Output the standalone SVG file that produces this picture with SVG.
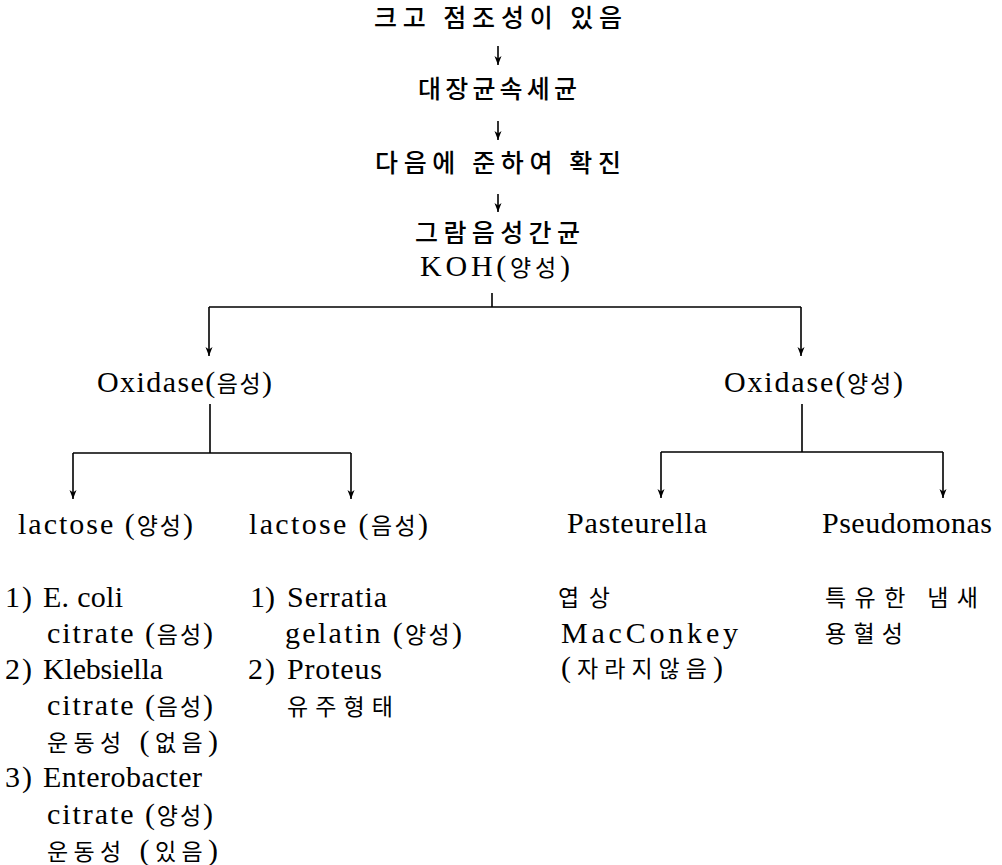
<svg xmlns="http://www.w3.org/2000/svg" width="1002" height="865" viewBox="0 0 1002 865">
  <style>
    .hd { font-family: "Noto Sans CJK KR", sans-serif; font-size: 25px; font-weight: 500; fill: #000; }
    .t { font-family: "Liberation Serif", "Noto Sans CJK KR", serif; font-size: 30px; fill: #000; }
    .k { font-family: "Noto Sans CJK KR", sans-serif; font-size: 23px; }
    .ln { stroke: #000; stroke-width: 1.6; fill: none; }
    .ar { stroke: #000; stroke-width: 1.6; fill: none; marker-end: url(#head); }
  </style>
  <defs>
    <!-- small filled arrowhead, drawn along +x so orient="auto" follows the line -->
    <marker id="head" markerUnits="userSpaceOnUse" markerWidth="10" markerHeight="10" viewBox="0 0 10 10" refX="9" refY="5" orient="auto">
      <path d="M0,1.5 L9,5 L0,8.5 L2.5,5 Z" fill="#000"/>
    </marker>
  </defs>
  <rect width="1002" height="865" fill="#fff"/>

  <!-- top chain -->
  <g id="n-title"><text class="hd" x="374" y="27" textLength="248">크고 점조성이 있음</text></g>
  <g id="n-genus"><text class="hd" x="418" y="98" textLength="159">대장균속세균</text></g>
  <g id="n-confirm"><text class="hd" x="375" y="172" textLength="246">다음에 준하여 확진</text></g>
  <g id="n-gram">
    <text class="hd" x="415" y="242" textLength="165">그람음성간균</text>
    <text class="t" x="420" y="276" textLength="150">KOH(<tspan class="k">양성</tspan>)</text>
  </g>

  <!-- oxidase level -->
  <g id="n-oxneg"><text class="t" x="97" y="392" textLength="175">Oxidase(<tspan class="k">음성</tspan>)</text></g>
  <g id="n-oxpos"><text class="t" x="724" y="392" textLength="179">Oxidase(<tspan class="k">양성</tspan>)</text></g>

  <!-- lactose / genus level -->
  <g id="n-lacpos"><text class="t" x="18" y="534" textLength="175">lactose (<tspan class="k">양성</tspan>)</text></g>
  <g id="n-lacneg"><text class="t" x="249" y="534" textLength="179">lactose (<tspan class="k">음성</tspan>)</text></g>
  <g id="n-past"><text class="t" x="567" y="533" textLength="140">Pasteurella</text></g>
  <g id="n-pseudo"><text class="t" x="822" y="533" textLength="170">Pseudomonas</text></g>

  <!-- lactose positive list -->
  <g id="n-list-lacpos">
    <text class="t" x="5" y="607" textLength="27">1)</text>
    <text class="t" x="43" y="607" textLength="80">E. coli</text>
    <text class="t" x="47" y="643" textLength="166">citrate (<tspan class="k">음성</tspan>)</text>
    <text class="t" x="5" y="679" textLength="27">2)</text>
    <text class="t" x="43" y="679" textLength="120">Klebsiella</text>
    <text class="t" x="47" y="715" textLength="166">citrate (<tspan class="k">음성</tspan>)</text>
    <text class="t" x="47" y="751" textLength="171"><tspan class="k">운동성</tspan> (<tspan class="k">없음</tspan>)</text>
    <text class="t" x="5" y="787" textLength="27">3)</text>
    <text class="t" x="43" y="787" textLength="159">Enterobacter</text>
    <text class="t" x="47" y="824" textLength="166">citrate (<tspan class="k">양성</tspan>)</text>
    <text class="t" x="47" y="860" textLength="171"><tspan class="k">운동성</tspan> (<tspan class="k">있음</tspan>)</text>
  </g>

  <!-- lactose negative list -->
  <g id="n-list-lacneg">
    <text class="t" x="250" y="607" textLength="25">1)</text>
    <text class="t" x="287" y="607" textLength="100">Serratia</text>
    <text class="t" x="285" y="643" textLength="177">gelatin (<tspan class="k">양성</tspan>)</text>
    <text class="t" x="248" y="679" textLength="27">2)</text>
    <text class="t" x="287" y="679" textLength="95">Proteus</text>
    <text class="t" x="287" y="715" textLength="106"><tspan class="k">유주형태</tspan></text>
  </g>

  <!-- Pasteurella notes -->
  <g id="n-list-past">
    <text class="t" x="558" y="606" textLength="52"><tspan class="k">엽상</tspan></text>
    <text class="t" x="561" y="643" textLength="177">MacConkey</text>
    <text class="t" x="561" y="677" textLength="162">(<tspan class="k">자라지않음</tspan>)</text>
  </g>

  <!-- Pseudomonas notes -->
  <g id="n-list-pseudo">
    <text class="t" x="825" y="606" textLength="153"><tspan class="k">특유한 냄새</tspan></text>
    <text class="t" x="825" y="642" textLength="78"><tspan class="k">용혈성</tspan></text>
  </g>

  <!-- connectors -->
  <g id="connectors">
    <path class="ar" d="M498,46 V65"/>
    <path class="ar" d="M498,121 V140"/>
    <path class="ar" d="M498,194 V212"/>
    <path class="ln" d="M492,293 V307 M209,307 H801"/>
    <path class="ar" d="M209,307 V356"/>
    <path class="ar" d="M801,307 V356"/>
    <path class="ln" d="M210,404 V453 M73,453 H351"/>
    <path class="ar" d="M73,453 V499"/>
    <path class="ar" d="M351,453 V499"/>
    <path class="ln" d="M802,404 V452 M661,452 H943"/>
    <path class="ar" d="M661,452 V498"/>
    <path class="ar" d="M943,452 V498"/>
  </g>
</svg>
